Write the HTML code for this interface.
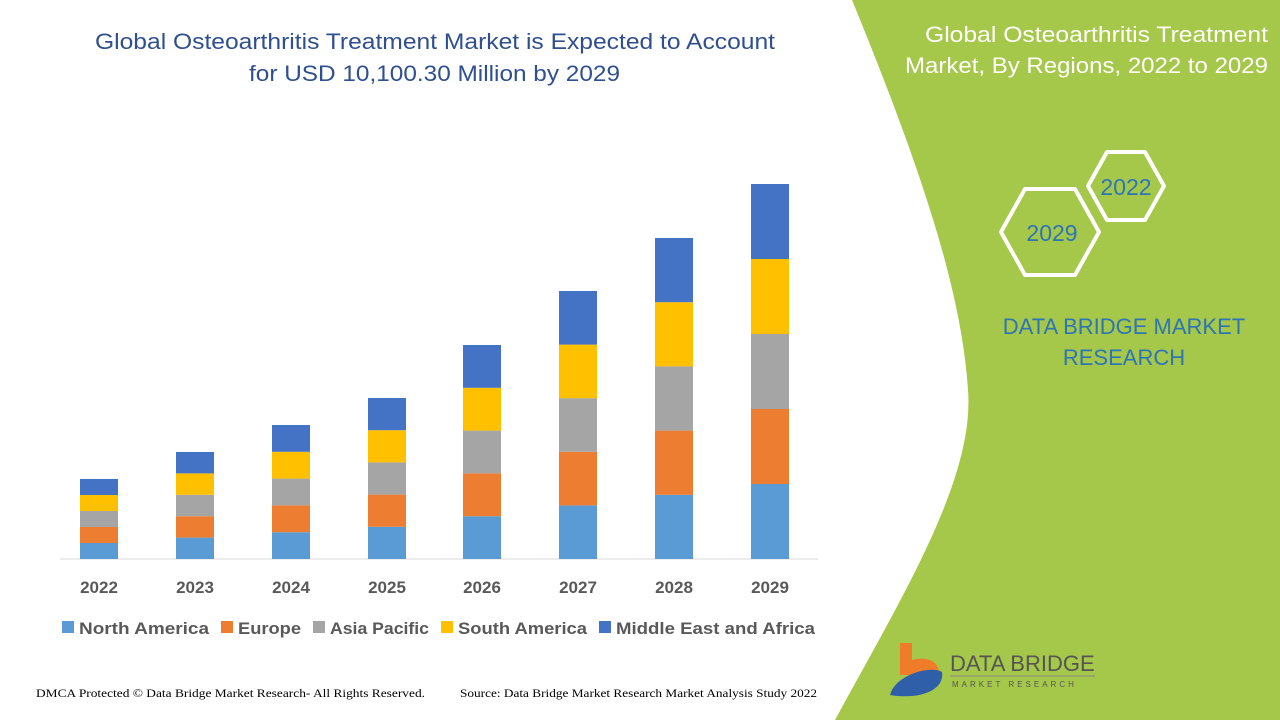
<!DOCTYPE html>
<html><head><meta charset="utf-8"><style>
body{margin:0;width:1280px;height:720px;overflow:hidden;background:#fff;font-family:"Liberation Sans",sans-serif}
svg{display:block}
</style></head><body>
<svg width="1280" height="720" viewBox="0 0 1280 720">
<path d="M852,0 L1280,0 L1280,720 L835,720 C900,600 975,480 968,390 C962,300 930,190 852,0 Z" fill="#a5c84a"/>
<g fill="none" stroke="#fff" stroke-width="4" stroke-linejoin="round">
<polygon points="1001,232 1025,189 1075,189 1099,232 1075,275 1025,275"/>
<polygon points="1088,186 1107,152 1145,152 1164,186 1145,220 1107,220"/>
</g>
<text x="1126" y="195" font-size="23" fill="#2e75b6" text-anchor="middle">2022</text>
<text x="1052" y="241" font-size="23" fill="#2e75b6" text-anchor="middle">2029</text>
<text x="1124" y="334" font-size="22" fill="#2e75b6" text-anchor="middle">DATA BRIDGE MARKET</text>
<text x="1124" y="365" font-size="22" fill="#2e75b6" text-anchor="middle">RESEARCH</text>
<text x="925" y="42" font-size="22" fill="#fff" textLength="343" lengthAdjust="spacingAndGlyphs">Global Osteoarthritis Treatment</text>
<text x="905" y="73" font-size="22" fill="#fff" textLength="363" lengthAdjust="spacingAndGlyphs">Market, By Regions, 2022 to 2029</text>
<text x="95" y="49" font-size="22" fill="#2f4f8f" textLength="680" lengthAdjust="spacingAndGlyphs">Global Osteoarthritis Treatment Market is Expected to Account</text>
<text x="249" y="81" font-size="22" fill="#2f4f8f" textLength="371" lengthAdjust="spacingAndGlyphs">for USD 10,100.30 Million by 2029</text>
<line x1="60" y1="559" x2="818" y2="559" stroke="#d9d9d9" stroke-width="1"/>
<g id="bars"></g>
<g font-size="17" font-weight="bold" fill="#595959" text-anchor="middle">
<text x="99" y="593">2022</text><text x="195" y="593">2023</text><text x="291" y="593">2024</text><text x="387" y="593">2025</text><text x="482" y="593">2026</text><text x="578" y="593">2027</text><text x="674" y="593">2028</text><text x="770" y="593">2029</text>
</g>
<g font-size="17" font-weight="bold" fill="#595959">
<rect x="62" y="621" width="12" height="12" fill="#5b9bd5"/><text x="79" y="634" textLength="130" lengthAdjust="spacingAndGlyphs">North America</text>
<rect x="221" y="621" width="12" height="12" fill="#ed7d31"/><text x="238" y="634" textLength="63" lengthAdjust="spacingAndGlyphs">Europe</text>
<rect x="313" y="621" width="12" height="12" fill="#a5a5a5"/><text x="330" y="634" textLength="99" lengthAdjust="spacingAndGlyphs">Asia Pacific</text>
<rect x="441" y="621" width="12" height="12" fill="#ffc000"/><text x="458" y="634" textLength="129" lengthAdjust="spacingAndGlyphs">South America</text>
<rect x="599" y="621" width="12" height="12" fill="#4472c4"/><text x="616" y="634" textLength="199" lengthAdjust="spacingAndGlyphs">Middle East and Africa</text>
</g>
<text x="36" y="697" font-size="12" fill="#000" font-family="Liberation Serif,serif" textLength="389" lengthAdjust="spacingAndGlyphs">DMCA Protected © Data Bridge Market Research- All Rights Reserved.</text>
<text x="460" y="697" font-size="12" fill="#000" font-family="Liberation Serif,serif" textLength="357" lengthAdjust="spacingAndGlyphs">Source: Data Bridge Market Research Market Analysis Study 2022</text>
<path d="M900,643 L912,643 L912,660 C930,655 942,665 938,675 L900,675 Z" fill="#f07c2a"/>
<path d="M890,695 C895,675 930,665 942,672 C945,690 920,700 890,695 Z" fill="#2e5fa8"/>
<text x="950" y="671" font-size="22" fill="#555">DATA BRIDGE</text>
<line x1="950" y1="676" x2="1095" y2="676" stroke="#888" stroke-width="1"/>
<text x="952" y="687" font-size="8" fill="#555" letter-spacing="3">MARKET RESEARCH</text>
</svg>
<script>
var tops=[[479,16],[452,21.4],[425,26.8],[398,32.2],[345,42.8],[291,53.6],[238,64.2],[184,75]];
var xs=[80,176,272,368,463,559,655,751];
var cols=["#5b9bd5","#ed7d31","#a5a5a5","#ffc000","#4472c4"];
var g=document.getElementById('bars'),s='';
for(var i=0;i<8;i++){for(var k=0;k<5;k++){var h=tops[i][1];var y=559-h*(k+1);s+='<rect x="'+xs[i]+'" y="'+y+'" width="38" height="'+h+'" fill="'+cols[k]+'"/>';}}
g.innerHTML=s;
</script>
</body></html>
